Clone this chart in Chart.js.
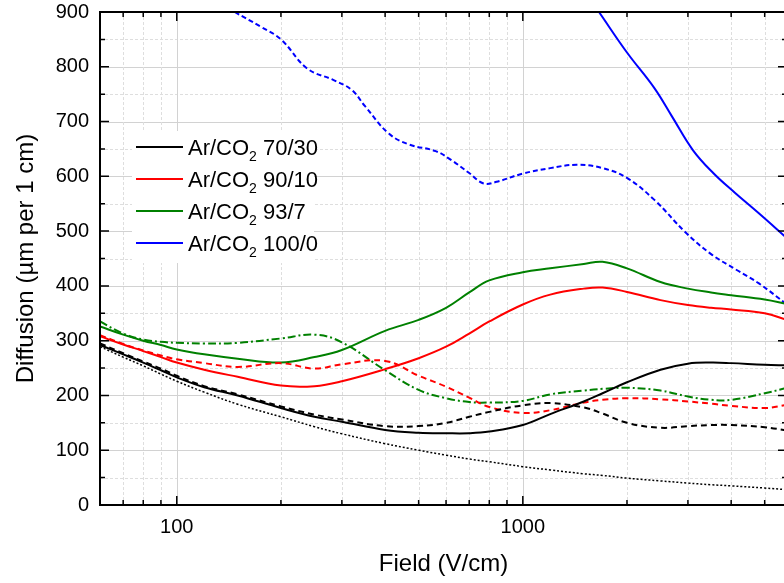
<!DOCTYPE html>
<html>
<head>
<meta charset="utf-8">
<script src="https://cdn.jsdelivr.net/npm/chart.js@4.4.0/dist/chart.umd.min.js"></script>
<style>
  html, body { margin: 0; padding: 0; background: #fff; overflow: hidden; }
  #wrap { position: absolute; left: 0; top: 0; width: 792px; height: 583px; }
</style>
</head>
<body>
<div id="wrap"><canvas id="chart"></canvas></div>
<script>
// field values (V/cm) shared by the black, red and green curves
const field = [60, 70, 80, 90, 100, 120, 150, 200, 250, 300, 400, 500, 600, 700, 800, 1000, 1200, 1500, 1700, 2000, 2500, 3000, 3500, 4000, 5000, 5800];

const ar7030     = [292, 275, 260, 246, 233, 215, 200, 177, 161, 152, 137, 132, 131, 131, 134, 146, 166, 189, 204, 224, 247, 258, 260, 259, 256, 255];
const ar7030Dash = [295, 277, 262, 249, 236, 217, 202, 180, 165, 156, 144, 144, 150, 161, 170, 182, 186, 178, 167, 150, 141, 144, 146, 146, 142, 136];
const theory     = [289, 270, 254, 239, 226, 206, 184, 161, 143, 130, 112, 100, 91, 84, 79, 70, 64, 57, 54, 49, 44, 40, 37, 35, 31, 28];
const ar9010     = [308, 293, 281, 270, 260, 247, 234, 218, 217, 226, 248, 268, 289, 313, 335, 366, 384, 395, 397, 389, 374, 365, 360, 357, 350, 338];
const ar9010Dash = [310, 294, 282, 273, 266, 259, 252, 259, 249, 257, 263, 236, 216, 196, 179, 168, 173, 187, 192, 195, 193, 189, 185, 181, 177, 183];
const ar937      = [326, 311, 300, 292, 284, 275, 267, 260, 270, 283, 318, 338, 360, 388, 410, 425, 432, 440, 444, 432, 407, 395, 388, 383, 375, 367];
const ar937Dash  = [335, 313, 302, 298, 296, 295, 296, 304, 311, 297, 246, 210, 195, 188, 187, 190, 202, 209, 212, 214, 209, 198, 192, 192, 204, 214];

// the blue curves only show up part of the way, so they get their own x values
const blueField = [1660, 2000, 2400, 2700, 3100, 3550, 4100, 4800, 5800];
const ar1000    = [900, 826, 761, 709, 648, 606, 570, 533, 487];
const blueDashField = [147, 175, 200, 238, 283, 320, 350, 410, 470, 560, 620, 700, 770, 840, 1000, 1200, 1430, 1700, 2000, 2400, 2950, 3500, 4150, 4800, 5800];
const ar1000Dash    = [900, 873, 850, 797, 776, 758, 728, 678, 658, 646, 630, 606, 587, 590, 605, 615, 621, 615, 597, 557, 498, 458, 429, 405, 366];

const xLabels = [100, 1000];
const legendMix = ['70/30', '90/10', '93/7', '100/0'];
const legendColors = ['#000000', '#ff0000', '#008000', '#0000ff'];

const FONT = "'Liberation Sans', Arial, sans-serif";

const pts = (xs, ys) => xs.map((x, i) => ({ x: x, y: ys[i] }));

const line = (label, xs, ys, color, dash, width) => ({
    label: label,
    data: pts(xs, ys),
    borderColor: color,
    backgroundColor: color,
    borderWidth: width || 2,
    borderDash: dash || [],
    pointRadius: 0,
    fill: false,
    tension: 0.4
});

// grid, frame and inward ticks like the original plot
const framePlugin = {
    id: 'frame',
    beforeDatasetsDraw(chart) {
        const { ctx, chartArea: a, scales: { x, y } } = chart;
        ctx.save();
        ctx.lineWidth = 1;
        for (let v = 50; v < 900; v += 50) {
            const py = Math.round(y.getPixelForValue(v)) + 0.5;
            const major = v % 100 === 0;
            ctx.strokeStyle = major ? '#d2d2d2' : '#dedede';
            ctx.setLineDash(major ? [] : [3, 2]);
            ctx.beginPath(); ctx.moveTo(a.left, py); ctx.lineTo(a.right, py); ctx.stroke();
        }
        for (let d = 10; d <= 1000; d *= 10) {
            for (let m = 1; m < 10; m++) {
                const v = d * m;
                if (v <= x.min || v >= x.max) continue;
                const px = Math.round(x.getPixelForValue(v)) + 0.5;
                const major = m === 1;
                ctx.strokeStyle = major ? '#d2d2d2' : '#dedede';
                ctx.setLineDash(major ? [] : [3, 2]);
                ctx.beginPath(); ctx.moveTo(px, a.top); ctx.lineTo(px, a.bottom); ctx.stroke();
            }
        }
        ctx.restore();
    },
    afterDatasetsDraw(chart) {
        const { ctx, chartArea: a, scales: { x, y } } = chart;
        ctx.save();
        ctx.strokeStyle = '#000';
        ctx.setLineDash([]);
        ctx.lineWidth = 1.5;
        for (let v = 50; v < 900; v += 50) {
            const py = y.getPixelForValue(v);
            const len = v % 100 === 0 ? 9 : 5;
            ctx.beginPath();
            ctx.moveTo(a.left, py); ctx.lineTo(a.left + len, py);
            ctx.moveTo(a.right, py); ctx.lineTo(a.right - len, py);
            ctx.stroke();
        }
        for (let d = 10; d <= 1000; d *= 10) {
            for (let m = 1; m < 10; m++) {
                const v = d * m;
                if (v <= x.min || v >= x.max) continue;
                const px = x.getPixelForValue(v);
                const len = m === 1 ? 9 : 5;
                ctx.beginPath();
                ctx.moveTo(px, a.bottom); ctx.lineTo(px, a.bottom - len);
                ctx.moveTo(px, a.top); ctx.lineTo(px, a.top + len);
                ctx.stroke();
            }
        }
        ctx.lineWidth = 2;
        ctx.strokeRect(a.left, a.top, a.right - a.left, a.bottom - a.top);
        ctx.restore();
    },
    afterDraw(chart) {
        // legend with subscript 2
        const ctx = chart.ctx;
        ctx.save();
        ctx.fillStyle = '#fff';
        ctx.fillRect(132, 131, 182, 132);
        legendMix.forEach((mix, i) => {
            const ly = 147 + i * 32;
            ctx.strokeStyle = legendColors[i];
            ctx.lineWidth = 2;
            ctx.beginPath(); ctx.moveTo(136, ly); ctx.lineTo(183, ly); ctx.stroke();
            ctx.fillStyle = '#000';
            ctx.textBaseline = 'alphabetic';
            ctx.textAlign = 'left';
            let tx = 188;
            ctx.font = '22px ' + FONT;
            ctx.fillText('Ar/CO', tx, ly + 8);
            tx += ctx.measureText('Ar/CO').width;
            ctx.font = '14px ' + FONT;
            ctx.fillText('2', tx, ly + 14);
            tx += ctx.measureText('2').width;
            ctx.font = '22px ' + FONT;
            ctx.fillText(' ' + mix, tx, ly + 8);
        });
        ctx.restore();
    }
};

new Chart(document.getElementById('chart'), {
    type: 'line',
    data: {
        datasets: [
            line('Ar/CO2 70/30', field, ar7030, '#000000'),
            line('Ar/CO2 70/30 dashed', field, ar7030Dash, '#000000', [6, 4]),
            line('theory', field, theory, '#000000', [2, 2], 1.5),
            line('Ar/CO2 90/10', field, ar9010, '#ff0000'),
            line('Ar/CO2 90/10 dashed', field, ar9010Dash, '#ff0000', [6, 4]),
            line('Ar/CO2 93/7', field, ar937, '#008000'),
            line('Ar/CO2 93/7 dash-dot', field, ar937Dash, '#008000', [8, 3, 2, 3]),
            line('Ar/CO2 100/0', blueField, ar1000, '#0000ff'),
            line('Ar/CO2 100/0 dashed', blueDashField, ar1000Dash, '#0000ff', [5, 3])
        ]
    },
    options: {
        responsive: true,
        maintainAspectRatio: false,
        animation: false,
        layout: { padding: { top: 12, right: 5, left: 0, bottom: 0 } },
        plugins: {
            legend: { display: false },
            tooltip: { enabled: false }
        },
        scales: {
            x: {
                type: 'logarithmic',
                position: 'bottom',
                min: 60,
                max: 5800,
                grid: { display: false, drawTicks: false },
                border: { display: false },
                afterBuildTicks: s => { s.ticks = xLabels.map(v => ({ value: v })); },
                afterFit: s => { s.height = 78; s.paddingLeft = 0; s.paddingRight = 0; },
                ticks: {
                    autoSkip: false,
                    maxRotation: 0,
                    padding: 10,
                    color: '#000',
                    font: { family: FONT, size: 20 },
                    callback: v => String(v)
                },
                title: {
                    display: true,
                    text: 'Field (V/cm)',
                    color: '#000',
                    font: { family: FONT, size: 24 },
                    padding: { top: 4, bottom: 4 }
                }
            },
            y: {
                min: 0,
                max: 900,
                grid: { display: false, drawTicks: false },
                border: { display: false },
                afterFit: s => { s.width = 100; s.paddingTop = 0; s.paddingBottom = 0; },
                ticks: {
                    stepSize: 100,
                    padding: 11,
                    color: '#000',
                    font: { family: FONT, size: 20 }
                },
                title: {
                    display: true,
                    text: 'Diffusion (µm per 1 cm)',
                    color: '#000',
                    font: { family: FONT, size: 24 },
                    padding: { top: 12, bottom: 12 }
                }
            }
        }
    },
    plugins: [framePlugin]
});
</script>
</body>
</html>
